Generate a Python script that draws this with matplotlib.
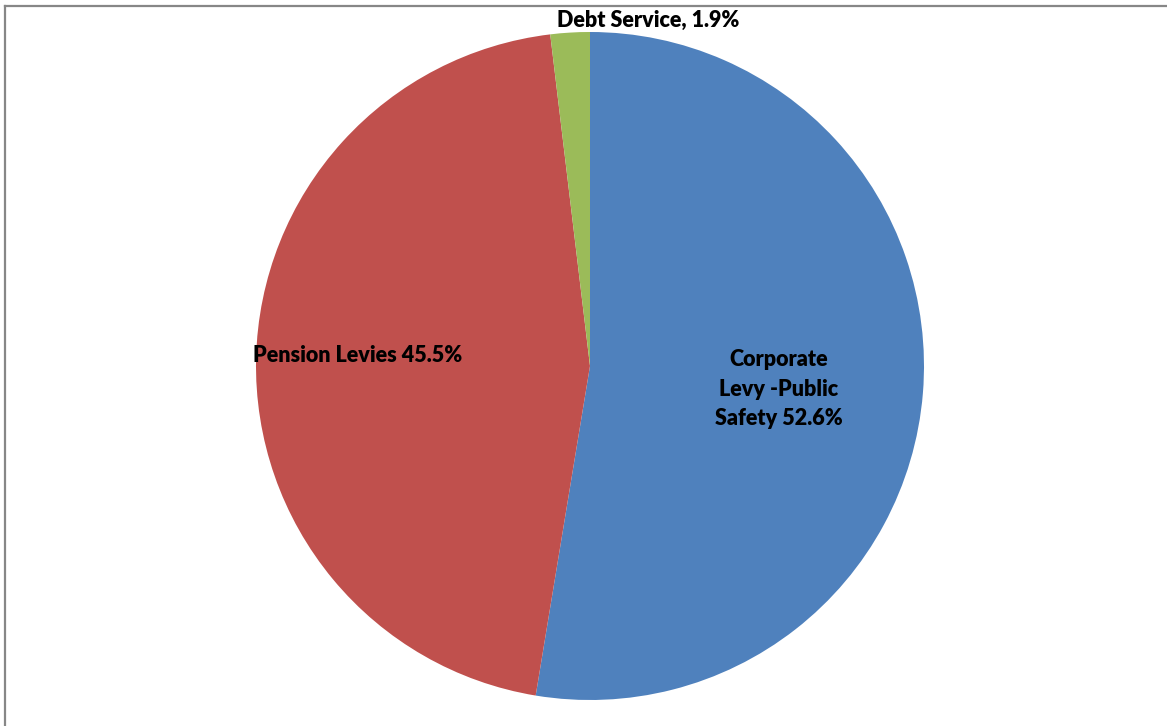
import matplotlib
matplotlib.use("Agg")
import matplotlib.pyplot as plt
from matplotlib.lines import Line2D

# Levy shares (percent), drawn clockwise from 12 o'clock
categories = ["Corporate\nLevy -Public\nSafety", "Pension Levies", "Debt Service"]
shares = [52.6, 45.5, 1.9]
colors = ["#4F81BD", "#C0504D", "#9BBB59"]
label_fmt = ["{} {:.1f}%", "{} {:.1f}%", "{}, {:.1f}%"]

W, H = 1167, 726
fig = plt.figure(figsize=(W / 100, H / 100), dpi=100)

cx, cy, r = 590, 366, 334
ax = fig.add_axes([(cx - r) / W, (H - cy - r) / H, 2 * r / W, 2 * r / H])
ax.pie(shares, colors=colors, startangle=90, counterclock=False,
       radius=1.0, wedgeprops=dict(linewidth=0))
ax.set_xlim(-1, 1)
ax.set_ylim(-1, 1)
ax.set_aspect("equal")
ax.axis("off")

# label anchor points in pie units
label_pos = [(0.566, -0.069), (-0.695, 0.030), (0.174, 1.036)]
for name, val, fmt, (lx, ly) in zip(categories, shares, label_fmt, label_pos):
    ax.text(lx, ly, fmt.format(name, val), ha="center", va="center",
            fontsize=15.5, fontweight="heavy", family="Lato",
            linespacing=1.5, clip_on=False)

# chart-area frame (left and top edges)
fig.add_artist(Line2D([5 / W, 5 / W], [0, 1 - 6 / H], transform=fig.transFigure,
                      color="#878787", linewidth=1.6))
fig.add_artist(Line2D([5 / W, 1], [1 - 6 / H, 1 - 6 / H], transform=fig.transFigure,
                      color="#878787", linewidth=1.6))

fig.savefig("out.png", dpi=100, facecolor="white")
